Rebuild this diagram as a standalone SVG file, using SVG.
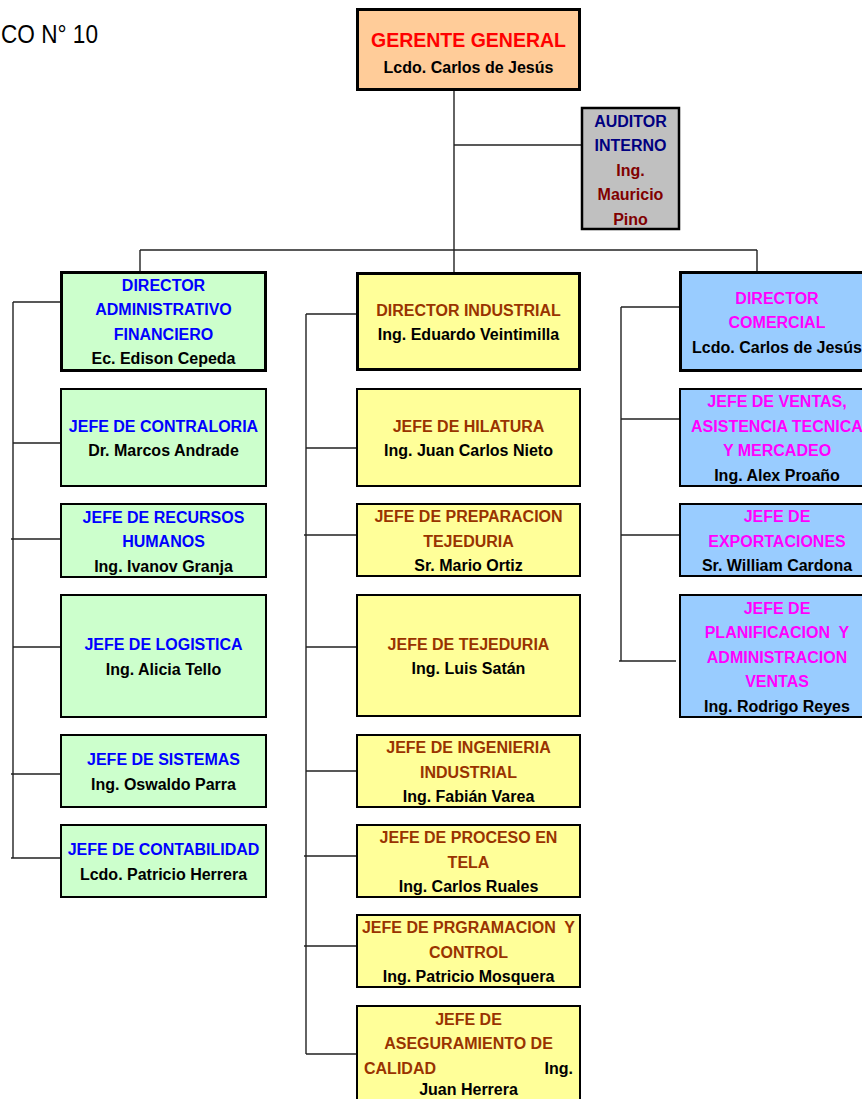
<svg xmlns="http://www.w3.org/2000/svg" width="862" height="1099" viewBox="0 0 862 1099">
  <style>
    text { font-family: "Liberation Sans", Arial, sans-serif; font-weight: bold; font-size: 16px; text-anchor: middle; }
    .box { stroke: #000; stroke-width: 2; }
    .thick { stroke-width: 3; }
    .gg { fill: #FFCC99; }
    .gray { fill: #C0C0C0; }
    .green { fill: #CCFFCC; }
    .yellow { fill: #FFFF99; }
    .blue { fill: #99CCFF; }
    .name { fill: #000; }
    .t-red { fill: #FF0000; }
    .t-navy { fill: #000080; }
    .t-maroon { fill: #800000; }
    .t-blue { fill: #0000FF; }
    .t-brown { fill: #993300; }
    .t-magenta { fill: #FF00FF; }
    .conn { stroke: #222; stroke-width: 1.4; fill: none; }
  </style>

  <rect width="862" height="1099" fill="#fff"/>

  <!-- page caption -->
  <text x="1" y="43" style="font-family: 'Liberation Sans', Arial, sans-serif; font-weight: normal; font-size: 26px; text-anchor: start;" textLength="97" lengthAdjust="spacingAndGlyphs" fill="#000">CO N° 10</text>

  <!-- connectors -->
  <g id="connectors">
    <path class="conn" d="M454 91 V250"/>
    <path class="conn" d="M454 145 H581"/>
    <path class="conn" d="M140 250 H757"/>
    <path class="conn" d="M140 250 V271"/>
    <path class="conn" d="M454 250 V272"/>
    <path class="conn" d="M757 250 V271"/>
    <!-- administrative branch -->
    <path class="conn" d="M13 302 V858"/>
    <path class="conn" d="M13 302 H60 M13 443 H60 M11 539 H60 M13 647 H60 M11 774 H60 M11 858 H60"/>
    <!-- industrial branch -->
    <path class="conn" d="M306 314 V1054"/>
    <path class="conn" d="M306 314 H356 M306 448 H356 M304 535 H356 M306 647 H356 M306 771 H356 M304 856 H356 M304 946 H356 M306 1054 H356"/>
    <!-- commercial branch -->
    <path class="conn" d="M621 307 V661"/>
    <path class="conn" d="M621 307 H679 M621 419 H679 M621 535 H679 M619 661 H676"/>
  </g>

  <!-- top management -->
  <g id="gerente-general">
    <rect class="box thick gg" x="357.5" y="9.5" width="222" height="80"/>
    <text class="t-red" x="468.5" y="47" style="font-size:19.5px">GERENTE GENERAL</text>
    <text class="name" x="468.5" y="73">Lcdo. Carlos de Jesús</text>
  </g>

  <g id="auditor-interno">
    <rect class="box gray" x="582" y="108" width="97" height="121" style="stroke-width:2.5"/>
    <text class="t-navy" x="630.5" y="126.5">AUDITOR</text>
    <text class="t-navy" x="630.5" y="151">INTERNO</text>
    <text class="t-maroon" x="630.5" y="175.5">Ing.</text>
    <text class="t-maroon" x="630.5" y="200">Mauricio</text>
    <text class="t-maroon" x="630.5" y="224.5">Pino</text>
  </g>

  <!-- administrative / financial area -->
  <g id="director-administrativo">
    <rect class="box thick green" x="61.5" y="272.5" width="204" height="98"/>
    <text class="t-blue" x="163.5" y="290.75">DIRECTOR</text>
    <text class="t-blue" x="163.5" y="315.25">ADMINISTRATIVO</text>
    <text class="t-blue" x="163.5" y="339.75">FINANCIERO</text>
    <text class="name" x="163.5" y="364.25">Ec. Edison Cepeda</text>
  </g>
  <g id="jefe-contraloria">
    <rect class="box green" x="61" y="389" width="205" height="97"/>
    <text class="t-blue" x="163.5" y="431.75">JEFE DE CONTRALORIA</text>
    <text class="name" x="163.5" y="456.25">Dr. Marcos Andrade</text>
  </g>
  <g id="jefe-recursos-humanos">
    <rect class="box green" x="61" y="504" width="205" height="73"/>
    <text class="t-blue" x="163.5" y="522.5">JEFE DE RECURSOS</text>
    <text class="t-blue" x="163.5" y="547">HUMANOS</text>
    <text class="name" x="163.5" y="571.5">Ing. Ivanov Granja</text>
  </g>
  <g id="jefe-logistica">
    <rect class="box green" x="61" y="595" width="205" height="122"/>
    <text class="t-blue" x="163.5" y="650.25">JEFE DE LOGISTICA</text>
    <text class="name" x="163.5" y="674.75">Ing. Alicia Tello</text>
  </g>
  <g id="jefe-sistemas">
    <rect class="box green" x="61" y="735" width="205" height="72"/>
    <text class="t-blue" x="163.5" y="765.25">JEFE DE SISTEMAS</text>
    <text class="name" x="163.5" y="789.75">Ing. Oswaldo Parra</text>
  </g>
  <g id="jefe-contabilidad">
    <rect class="box green" x="61" y="825" width="205" height="72"/>
    <text class="t-blue" x="163.5" y="855.25">JEFE DE CONTABILIDAD</text>
    <text class="name" x="163.5" y="879.75">Lcdo. Patricio Herrera</text>
  </g>

  <!-- industrial area -->
  <g id="director-industrial">
    <rect class="box thick yellow" x="357.5" y="273.5" width="222" height="96"/>
    <text class="t-brown" x="468.5" y="315.75">DIRECTOR INDUSTRIAL</text>
    <text class="name" x="468.5" y="340.25">Ing. Eduardo Veintimilla</text>
  </g>
  <g id="jefe-hilatura">
    <rect class="box yellow" x="357" y="389" width="223" height="97"/>
    <text class="t-brown" x="468.5" y="431.75">JEFE DE HILATURA</text>
    <text class="name" x="468.5" y="456.25">Ing. Juan Carlos Nieto</text>
  </g>
  <g id="jefe-preparacion-tejeduria">
    <rect class="box yellow" x="357" y="504" width="223" height="72"/>
    <text class="t-brown" x="468.5" y="522">JEFE DE PREPARACION</text>
    <text class="t-brown" x="468.5" y="546.5">TEJEDURIA</text>
    <text class="name" x="468.5" y="571">Sr. Mario Ortiz</text>
  </g>
  <g id="jefe-tejeduria">
    <rect class="box yellow" x="357" y="595" width="223" height="121"/>
    <text class="t-brown" x="468.5" y="649.75">JEFE DE TEJEDURIA</text>
    <text class="name" x="468.5" y="674.25">Ing. Luis Satán</text>
  </g>
  <g id="jefe-ingenieria-industrial">
    <rect class="box yellow" x="357" y="735" width="223" height="72"/>
    <text class="t-brown" x="468.5" y="753">JEFE DE INGENIERIA</text>
    <text class="t-brown" x="468.5" y="777.5">INDUSTRIAL</text>
    <text class="name" x="468.5" y="802">Ing. Fabián Varea</text>
  </g>
  <g id="jefe-proceso-tela">
    <rect class="box yellow" x="357" y="825" width="223" height="72"/>
    <text class="t-brown" x="468.5" y="843">JEFE DE PROCESO EN</text>
    <text class="t-brown" x="468.5" y="867.5">TELA</text>
    <text class="name" x="468.5" y="892">Ing. Carlos Ruales</text>
  </g>
  <g id="jefe-programacion-control">
    <rect class="box yellow" x="357" y="915" width="223" height="72"/>
    <text class="t-brown" x="468.5" y="933" xml:space="preserve">JEFE DE PRGRAMACION  Y</text>
    <text class="t-brown" x="468.5" y="957.5">CONTROL</text>
    <text class="name" x="468.5" y="982">Ing. Patricio Mosquera</text>
  </g>
  <g id="jefe-aseguramiento-calidad">
    <rect class="box yellow" x="357" y="1006" width="223" height="100"/>
    <text class="t-brown" x="468.5" y="1024.75">JEFE DE</text>
    <text class="t-brown" x="468.5" y="1049.25">ASEGURAMIENTO DE</text>
    <text y="1073.75"><tspan class="t-brown" x="364" style="text-anchor:start">CALIDAD</tspan><tspan class="name" x="573" style="text-anchor:end">Ing.</tspan></text>
    <text class="name" x="468.5" y="1095">Juan Herrera</text>
  </g>

  <!-- commercial area -->
  <g id="director-comercial">
    <rect class="box thick blue" x="680.5" y="272.5" width="194" height="98"/>
    <text class="t-magenta" x="777" y="303.5">DIRECTOR</text>
    <text class="t-magenta" x="777" y="328">COMERCIAL</text>
    <text class="name" x="777" y="352.5">Lcdo. Carlos de Jesús</text>
  </g>
  <g id="jefe-ventas">
    <rect class="box blue" x="680" y="389" width="195" height="97"/>
    <text class="t-magenta" x="777" y="407.25">JEFE DE VENTAS,</text>
    <text class="t-magenta" x="777" y="431.75">ASISTENCIA TECNICA</text>
    <text class="t-magenta" x="777" y="456.25">Y MERCADEO</text>
    <text class="name" x="777" y="480.75">Ing. Alex Proaño</text>
  </g>
  <g id="jefe-exportaciones">
    <rect class="box blue" x="680" y="504" width="195" height="72"/>
    <text class="t-magenta" x="777" y="522">JEFE DE</text>
    <text class="t-magenta" x="777" y="546.5">EXPORTACIONES</text>
    <text class="name" x="777" y="571">Sr. William Cardona</text>
  </g>
  <g id="jefe-planificacion-ventas">
    <rect class="box blue" x="680" y="595" width="195" height="122"/>
    <text class="t-magenta" x="777" y="613.5">JEFE DE</text>
    <text class="t-magenta" x="777" y="638" xml:space="preserve">PLANIFICACION  Y</text>
    <text class="t-magenta" x="777" y="662.5">ADMINISTRACION</text>
    <text class="t-magenta" x="777" y="687">VENTAS</text>
    <text class="name" x="777" y="711.5">Ing. Rodrigo Reyes</text>
  </g>
</svg>
